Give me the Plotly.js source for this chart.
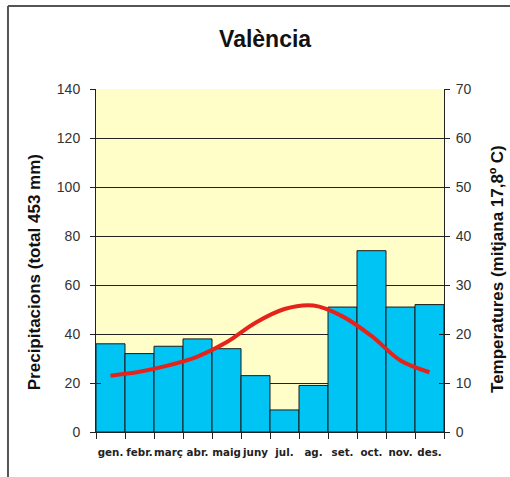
<!DOCTYPE html>
<html>
<head>
<meta charset="utf-8">
<script src="https://cdn.plot.ly/plotly-3.0.1.min.js"></script>
<style>html,body{margin:0;padding:0;background:#fff;}#chart{width:510px;height:477px;}</style>
</head>
<body>
<div id="chart"></div>
<script>
var months = ["gen.", "febr.", "març", "abr.", "maig", "juny", "jul.", "ag.", "set.", "oct.", "nov.", "des."];
var precip = [36, 32, 35, 38, 34, 23, 9, 19, 51, 74, 51, 52];
var temp = [11.5, 12.3, 13.6, 15.4, 18.3, 22.3, 25.1, 25.8, 23.6, 19.6, 14.6, 12.2];
var precipTicks = [0, 20, 40, 60, 80, 100, 120, 140];
var tempTicks = [0, 10, 20, 30, 40, 50, 60, 70];
var gridVals = [20, 40, 60, 80, 100, 120];

var font = "Liberation Sans, Arial, sans-serif";

var data = [
  {type: "bar", x: months, y: precip, yaxis: "y",
   marker: {color: "#00C4F4", line: {color: "#1a1a1a", width: 1}},
   hoverinfo: "none"},
  {type: "scatter", mode: "lines", x: months, y: temp, yaxis: "y2",
   line: {color: "#E4231B", width: 4, shape: "spline", smoothing: 1},
   hoverinfo: "none"},
  {type: "scatter", mode: "none", x: [], y: [], yaxis: "y3", hoverinfo: "none"},
  {type: "scatter", mode: "none", x: [], y: [], yaxis: "y4", hoverinfo: "none"}
];

var layout = {
  width: 510, height: 477,
  margin: {l: 96, r: 66, t: 89, b: 45},
  paper_bgcolor: "#ffffff",
  plot_bgcolor: "#FFFDC8",
  showlegend: false,
  bargap: 0,
  font: {family: font, color: "#222"},
  title: {text: "<b>València</b>", font: {family: font, size: 23, color: "#111"},
          xref: "paper", x: 0.486, xanchor: "center",
          yref: "container", y: 0.918, yanchor: "middle"},
  xaxis: {type: "category", tickson: "boundaries", ticks: "outside", ticklen: 6,
          tickcolor: "#222", tickwidth: 1, showline: true, linecolor: "#222", linewidth: 1,
          showgrid: false, tickangle: 0, ticklabelstandoff: 11,
          tickfont: {family: "DejaVu Sans, Verdana, sans-serif", size: 10.3, color: "#222", weight: "bold"},
          range: [-0.5, 11.5], fixedrange: true},
  yaxis: {range: [0, 140], tickvals: precipTicks, ticks: "outside", ticklen: 5,
          tickcolor: "#222", showline: true, linecolor: "#222", linewidth: 1,
          showgrid: false, zeroline: false,
          tickfont: {family: font, size: 14, color: "#333"}, ticklabelstandoff: 7},
  yaxis2: {range: [0, 70], tickvals: tempTicks, overlaying: "y", side: "right",
           ticks: "outside", ticklen: 5, tickcolor: "#222", showline: true,
           linecolor: "#222", linewidth: 1, showgrid: false, zeroline: false,
           tickfont: {family: font, size: 14, color: "#333"}, ticklabelstandoff: 3},
  yaxis3: {range: [0, 140], tickvals: gridVals, overlaying: "y", side: "left",
           ticks: "inside", ticklen: 5, tickcolor: "#222", showticklabels: false,
           showline: false, showgrid: true, gridcolor: "#222", gridwidth: 1, zeroline: false},
  yaxis4: {range: [0, 70], tickvals: tempTicks, overlaying: "y", side: "right",
           ticks: "inside", ticklen: 5, tickcolor: "#222", showticklabels: false,
           showline: false, zeroline: false, showgrid: false},
  annotations: [
    {text: "<b>Precipitacions (total 453 mm)</b>", textangle: -90, xref: "paper", yref: "paper",
     x: -0.178, y: 0.466, showarrow: false, xanchor: "center", yanchor: "middle",
     font: {family: font, size: 17, color: "#111"}},
    {text: "<b>Temperatures (mitjana 17,8º C)</b>", textangle: -90, xref: "paper", yref: "paper",
     x: 1.152, y: 0.475, showarrow: false, xanchor: "center", yanchor: "middle",
     font: {family: font, size: 17, color: "#111"}}
  ],
  shapes: [
    {type: "line", xref: "paper", yref: "paper", x0: -0.2529, x1: -0.2529, y0: 1.242, y1: -0.14,
     line: {color: "#555", width: 2}},
    {type: "line", xref: "paper", yref: "paper", x0: -0.2529, x1: 1.2, y0: 1.242, y1: 1.242,
     line: {color: "#555", width: 2}}
  ]
};

Plotly.newPlot("chart", data, layout, {displayModeBar: false, staticPlot: true});
</script>
</body>
</html>
